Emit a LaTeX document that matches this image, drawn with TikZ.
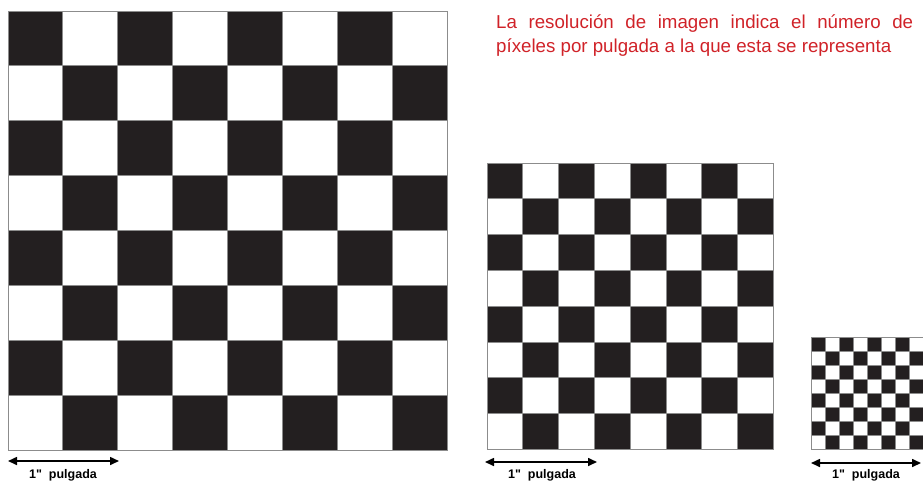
\documentclass[tikz,border=0pt]{standalone}
\usepackage{fontspec}
\setmainfont{Liberation Sans}
\newfontfamily\labelfont[Ligatures=TeXOff]{Liberation Sans}
\usetikzlibrary{arrows.meta}
\definecolor{boardblack}{HTML}{231F20}
\definecolor{edgegray}{HTML}{8C8C8C}
\definecolor{titlered}{RGB}{208,34,40}
\tikzset{
  whitesq/.style={fill=white,draw=edgegray,line width=0.9pt},
  inch/.style={{Triangle[length=9pt,width=8pt]}-{Triangle[length=9pt,width=8pt]},line width=1.6pt,black},
  inchlabel/.style={font=\labelfont\bfseries\fontsize{12.5}{14}\selectfont,inner sep=0pt,anchor=base},
  titletext/.style={font=\fontsize{18.7}{22}\selectfont,text=titlered,inner sep=0pt,anchor=base west}
}
\begin{document}
\begin{tikzpicture}[x=1pt,y=-1pt]
\useasboundingbox (0,0) rectangle (923,480);
% large board
\def\bx{8}\def\by{11}\def\bs{54.9}
\fill[boardblack] (\bx,\by) rectangle ++(8*\bs,8*\bs);
\foreach \i in {0,...,7}{\foreach \j in {0,...,7}{
  \pgfmathtruncatemacro{\odd}{mod(\i+\j,2)}
  \ifnum\odd=1 \draw[whitesq] (\bx+\i*\bs,\by+\j*\bs) rectangle ++(\bs,\bs);\fi
}}
\draw[edgegray,line width=0.8pt] (\bx,\by) rectangle ++(8*\bs,8*\bs);
% medium board
\def\mx{487}\def\my{163}\def\ms{35.8}
\fill[boardblack] (\mx,\my) rectangle ++(8*\ms,8*\ms);
\foreach \i in {0,...,7}{\foreach \j in {0,...,7}{
  \pgfmathtruncatemacro{\odd}{mod(\i+\j,2)}
  \ifnum\odd=1 \draw[whitesq,line width=0.7pt] (\mx+\i*\ms,\my+\j*\ms) rectangle ++(\ms,\ms);\fi
}}
\draw[edgegray,line width=0.7pt] (\mx,\my) rectangle ++(8*\ms,8*\ms);
% small board
\def\sx{811}\def\sy{337}\def\ss{14}
\fill[boardblack] (\sx,\sy) rectangle ++(8*\ss,8*\ss);
\foreach \i in {0,...,7}{\foreach \j in {0,...,7}{
  \pgfmathtruncatemacro{\odd}{mod(\i+\j,2)}
  \ifnum\odd=1 \draw[whitesq,line width=0.5pt] (\sx+\i*\ss,\sy+\j*\ss) rectangle ++(\ss,\ss);\fi
}}
\draw[edgegray,line width=0.5pt] (\sx,\sy) rectangle ++(8*\ss,8*\ss);
% inch arrows
\coordinate (a1) at (8,461); \coordinate (b1) at (119,461);
\draw[inch] (a1) -- (b1);
\node[inchlabel] (l1) at (63,478) {1"\ \ pulgada};
\coordinate (a2) at (485,462); \coordinate (b2) at (597,462);
\draw[inch] (a2) -- (b2);
\node[inchlabel] (l2) at (542,478) {1"\ \ pulgada};
\coordinate (a3) at (811,463); \coordinate (b3) at (921,463);
\draw[inch] (a3) -- (b3);
\node[inchlabel] (l3) at (866,478) {1"\ \ pulgada};
% title
\node[titletext] (t1) at (496,28) {\makebox[417pt][s]{La resolución de imagen indica el número de}};
\node[titletext] (t2) at (496,52) {píxeles por pulgada a la que esta se representa};
\end{tikzpicture}
\end{document}
